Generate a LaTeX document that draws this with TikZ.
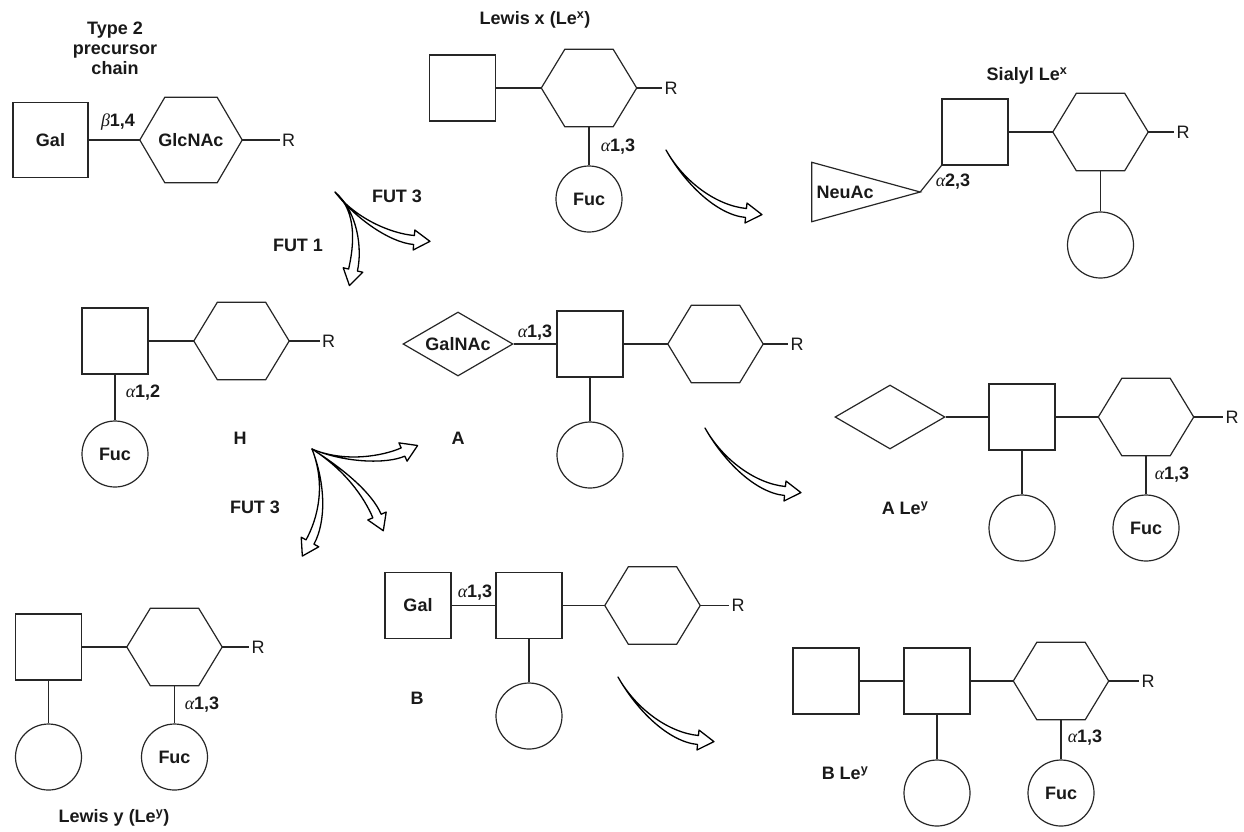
\documentclass[tikz,border=0pt]{standalone}
\usepackage{fontspec}
\setmainfont{Liberation Sans}
\newfontfamily\grk{Liberation Serif}
\usetikzlibrary{shapes.geometric,calc}
\newcommand\alp{{\grk\itshape\mdseries α}}
\newcommand\bet{{\grk\itshape\mdseries β}}
\tikzset{
  lab/.style={font=\fontsize{18}{20}\selectfont\bfseries, inner sep=1pt, text=black!90},
  rlab/.style={font=\fontsize{18}{20}\selectfont, inner sep=2pt, text=black!90},
  shapeline/.style={draw=black!85, line width=1.2pt},
  bond/.style={draw=black!85, line width=1.2pt},
  sq/.style={shapeline, rectangle, minimum size=66pt, inner sep=0pt, lab},
  bigsq/.style={sq, minimum size=75pt},
  circ/.style={shapeline, circle, minimum size=66pt, inner sep=0pt, lab},
  dia/.style={shapeline, diamond, aspect=1.7, minimum width=110pt, minimum height=64pt, inner sep=0pt, lab},
  hexshape/.style n args={3}{rectangle, minimum width=#1, minimum height=#2, inner sep=0pt, lab,
    append after command={\pgfextra{\draw[shapeline] (\tikzlastnode.west) -- ([xshift=#3]\tikzlastnode.north west) -- ([xshift=-#3]\tikzlastnode.north east) -- (\tikzlastnode.east) -- ([xshift=-#3]\tikzlastnode.south east) -- ([xshift=#3]\tikzlastnode.south west) -- cycle;}}},
  hexa/.style={hexshape={95pt}{77pt}{23.5pt}},
  bighexa/.style={hexshape={102pt}{85pt}{25pt}},
  tri/.style={rectangle, minimum width=66pt, minimum height=59pt, inner sep=0pt, lab,
    append after command={\pgfextra{\draw[shapeline] (\tikzlastnode.north west) -- ([xshift=42pt]\tikzlastnode.east) -- (\tikzlastnode.south west) -- cycle;}}},
  harrow/.style={draw=black, line width=1.3pt, fill=white, line join=round},
}
\newcommand\hollowarr[4]{%
  \coordinate (hT) at #1;
  \coordinate (hA) at #2;
  \coordinate (hB) at #3;
  \coordinate (hE) at #4;
  \coordinate (hL) at ($(hE)!4.5pt!90:(hB)$);
  \coordinate (hR) at ($(hE)!4.5pt!-90:(hB)$);
  \coordinate (hLw) at ($(hE)!10pt!90:(hB)$);
  \coordinate (hRw) at ($(hE)!10pt!-90:(hB)$);
  \coordinate (hTip) at ($(hE)!-16pt!(hB)$);
  \coordinate (hBL) at ($(hB)+(hL)-(hE)$);
  \coordinate (hBR) at ($(hB)+(hR)-(hE)$);
  \draw[harrow] (hT) .. controls (hA) and (hBL) .. (hL) -- (hLw) -- (hTip) -- (hRw) -- (hR) .. controls (hBR) and (hA) .. (hT) -- cycle;
}
\begin{document}
\begin{tikzpicture}[x=1pt,y=-1pt]
\useasboundingbox (0,0) rectangle (1244,831);

% Type 2 precursor chain
\node[lab, align=center] (t2t) at (115,48) {Type 2\\precursor\\chain};
\node[bigsq] (gal0) at (50.5,140) {Gal};
\node[bighexa] (glc0) at (191,140) {GlcNAc};
\node[rlab] (r0) at (288.5,140) {R};
\draw[bond] (gal0.east) -- (glc0.west);
\draw[bond] (glc0.east) -- (r0.west);
\node[lab] (b14) at (118,122) {\bet1,4};

% Lewis x
\node[lab] (lxt) at (535,20) {Lewis x (Le\textsuperscript{x})};
\node[sq] (lxs) at (462.5,88) {};
\node[hexa] (lxh) at (589,88) {};
\node[rlab] (lxr) at (671,88) {R};
\node[circ] (lxf) at (589,199) {Fuc};
\draw[bond] (lxs.east) -- (lxh.west);
\draw[bond] (lxh.east) -- (lxr.west);
\draw[bond] (lxh.south) -- (lxf.north);
\node[lab] (lxa) at (618,147) {\alp1,3};

% Sialyl Le x
\node[lab] (slt) at (1027,76) {Sialyl Le\textsuperscript{x}};
\node[sq] (sls) at (975,132) {};
\node[hexa] (slh) at (1100.5,132) {};
\node[rlab] (slr) at (1183,132) {R};
\node[circ] (slc) at (1100.5,245) {};
\node[tri] (neu) at (845,192) {NeuAc};
\coordinate (neuapex) at ([xshift=42pt]neu.east);
\draw[bond] (sls.east) -- (slh.west);
\draw[bond] (slh.east) -- (slr.west);
\draw[bond] (slh.south) -- (slc.north);
\draw[bond] (neuapex) -- (sls.south west);
\node[lab] (sla) at (953,182) {\alp2,3};

% H
\node[sq] (hs) at (115,341) {};
\node[hexa] (hh) at (241.5,341) {};
\node[rlab] (hr) at (328.5,341) {R};
\node[circ] (hf) at (115,454) {Fuc};
\draw[bond] (hs.east) -- (hh.west);
\draw[bond] (hh.east) -- (hr.west);
\draw[bond] (hs.south) -- (hf.north);
\node[lab] (ha) at (143,393) {\alp1,2};
\node[lab] (hl) at (240,438) {H};

% A
\node[dia] (ad) at (458,344) {GalNAc};
\node[sq] (asq) at (590,344) {};
\node[hexa] (ahx) at (715.5,344) {};
\node[rlab] (ar) at (797,344) {R};
\node[circ] (ac) at (590,455) {};
\draw[bond] (ad.east) -- (asq.west);
\draw[bond] (asq.east) -- (ahx.west);
\draw[bond] (ahx.east) -- (ar.west);
\draw[bond] (asq.south) -- (ac.north);
\node[lab] (aa) at (535,333) {\alp1,3};
\node[lab] (al) at (458,438) {A};

% A Le y
\node[dia] (ald) at (890,417) {};
\node[sq] (als) at (1022,417) {};
\node[hexa] (alh) at (1146,417) {};
\node[rlab] (alr) at (1232,417) {R};
\node[circ] (alc1) at (1022,528) {};
\node[circ] (alc2) at (1146,528) {Fuc};
\draw[bond] (ald.east) -- (als.west);
\draw[bond] (als.east) -- (alh.west);
\draw[bond] (alh.east) -- (alr.west);
\draw[bond] (als.south) -- (alc1.north);
\draw[bond] (alh.south) -- (alc2.north);
\node[lab] (ala) at (1172,475) {\alp1,3};
\node[lab] (all) at (905,508) {A Le\textsuperscript{y}};

% B
\node[sq] (bg) at (418,605.5) {Gal};
\node[sq] (bs) at (529,605.5) {};
\node[hexa] (bh) at (652.5,605.5) {};
\node[rlab] (br) at (738,605.5) {R};
\node[circ] (bc) at (529,716) {};
\draw[bond] (bg.east) -- (bs.west);
\draw[bond] (bs.east) -- (bh.west);
\draw[bond] (bh.east) -- (br.west);
\draw[bond] (bs.south) -- (bc.north);
\node[lab] (ba) at (475,593) {\alp1,3};
\node[lab] (bl) at (417,698) {B};

% B Le y
\node[sq] (bl1) at (826,681) {};
\node[sq] (bl2) at (937,681) {};
\node[hexa] (blh) at (1061,681) {};
\node[rlab] (blr) at (1148,681) {R};
\node[circ] (blc1) at (937,793) {};
\node[circ] (blc2) at (1061,793) {Fuc};
\draw[bond] (bl1.east) -- (bl2.west);
\draw[bond] (bl2.east) -- (blh.west);
\draw[bond] (blh.east) -- (blr.west);
\draw[bond] (bl2.south) -- (blc1.north);
\draw[bond] (blh.south) -- (blc2.north);
\node[lab] (bla) at (1085,738) {\alp1,3};
\node[lab] (bll) at (845,773) {B Le\textsuperscript{y}};

% Lewis y
\node[sq] (lys) at (48.5,647) {};
\node[hexa] (lyh) at (174.5,647) {};
\node[rlab] (lyr) at (258,647) {R};
\node[circ] (lyc1) at (48.5,757) {};
\node[circ] (lyc2) at (174.5,757) {Fuc};
\draw[bond] (lys.east) -- (lyh.west);
\draw[bond] (lyh.east) -- (lyr.west);
\draw[bond] (lys.south) -- (lyc1.north);
\draw[bond] (lyh.south) -- (lyc2.north);
\node[lab] (lya) at (202,705) {\alp1,3};
\node[lab] (lyt) at (114,818) {Lewis y (Le\textsuperscript{y})};

% enzyme labels
\node[lab] (fut3a) at (397,196) {FUT 3};
\node[lab] (fut1) at (298,245) {FUT 1};
\node[lab] (fut3b) at (255,507) {FUT 3};

% reaction arrows
\hollowarr{(335,192)}{(358,212)}{(358,248)}{(353,270)}
\hollowarr{(335,192)}{(355,218)}{(390,238)}{(414,240)}
\hollowarr{(312,449)}{(345,463)}{(385,460)}{(403,452)}
\hollowarr{(312,449)}{(345,470)}{(368,495)}{(377,516)}
\hollowarr{(312,449)}{(326,485)}{(322,520)}{(310,542)}
\hollowarr{(666,150)}{(684,182)}{(716,210)}{(746,213)}
\hollowarr{(705,428)}{(723,460)}{(755,488)}{(785,491)}
\hollowarr{(618,677)}{(636,709)}{(668,737)}{(698,740)}
\end{tikzpicture}
\end{document}
